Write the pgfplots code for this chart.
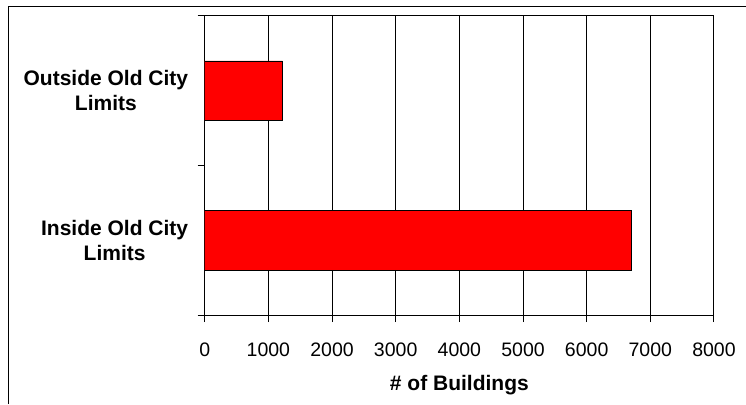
\documentclass[border=0pt]{standalone}
\usepackage{fontspec}
\setmainfont{Liberation Sans}
\usepackage{pgfplots}
\pgfplotsset{compat=1.18}
\begin{document}
\begin{tikzpicture}
\begin{axis}[
  at={(204.7pt,89pt)}, anchor=south west,
  scale only axis, width=509.3pt, height=299pt,
  xbar, bar width=59.5pt,
  xmin=0, xmax=8000, ymin=-0.5, ymax=1.5,
  xtick={0,1000,...,8000},
  xmajorgrids, grid style={black, line width=1pt},
  axis line style={line width=1pt},
  tick style={black, line width=1pt},
  tick align=outside, major tick length=7pt,
  xtick pos=left, ytick pos=left,
  ytick={-0.5,0.5,1.5}, yticklabels={},
  extra y ticks={0,1},
  extra y tick labels={{Inside Old City\\Limits},{Outside Old City\\Limits}},
  extra y tick style={major tick length=0pt, ymajorgrids=false,
    tick label style={align=center, font=\fontsize{21}{25}\selectfont\bfseries, xshift=-13pt}},
  scaled x ticks=false,
  xticklabel style={font=\fontsize{19.5}{24}\selectfont, yshift=-17pt},
  /pgf/number format/assume math mode=true,
  /pgf/number format/1000 sep={},
  xlabel={\# of Buildings},
  xlabel style={font=\fontsize{21}{25}\selectfont\bfseries, yshift=-12pt},
]
\addplot[fill=red, draw=black, line width=0.8pt] coordinates {(6710,0) (1220,1)};
\end{axis}
\draw[line width=1pt] (8pt,0) -- (8pt,397pt) -- (746pt,397pt);
\pgfresetboundingbox
\path[use as bounding box] (0,0) rectangle (746pt,404pt);
\end{tikzpicture}
\end{document}
